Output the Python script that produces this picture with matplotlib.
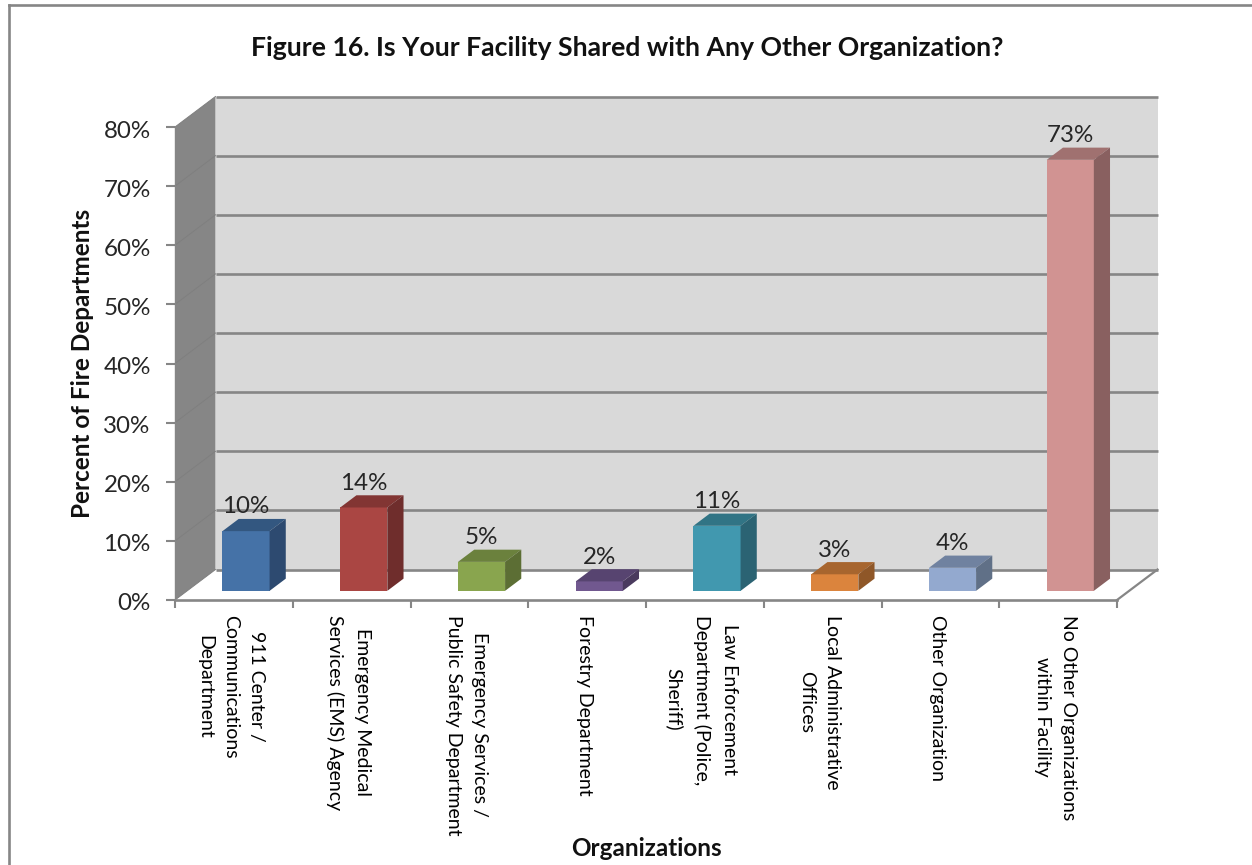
import matplotlib
matplotlib.use('Agg')
from matplotlib import pyplot as plt
from matplotlib.lines import Line2D
from matplotlib.patches import Polygon
from matplotlib.transforms import ScaledTranslation

plt.rcParams['font.family'] = ['Lato', 'DejaVu Sans']

# data
organizace = [
    '911 Center /\nCommunications\nDepartment',
    'Emergency Medical\nServices (EMS) Agency',
    'Emergency Services /\nPublic Safety Department',
    'Forestry Department',
    'Law Enforcement\nDepartment (Police,\nSheriff)',
    'Local Administrative\nOffices',
    'Other Organization',
    'No Other Organizations\nwithin Facility',
]
hodnoty = [10.1, 14.1, 4.9, 1.6, 11.0, 2.8, 3.9, 72.9]
popisky = ['10%', '14%', '5%', '2%', '11%', '3%', '4%', '73%']
y_ticky = [0, 10, 20, 30, 40, 50, 60, 70, 80]

barvy_predek = ['#4572a7', '#aa4643', '#89a54e', '#71588f', '#4198af', '#db843d', '#93a9cf', '#d19392']
barvy_bok = ['#2d4a70', '#6f2d2c', '#5c6e34', '#4a3a5e', '#2b6373', '#8f5728', '#607087', '#896060']
barvy_vrch = ['#335780', '#823533', '#6b813d', '#574470', '#317485', '#a7652e', '#7082a0', '#a07170']

W, H = 1252, 865
SEDA = '#868686'
TEXT = '#262626'

fig = plt.figure(figsize=(W / 100, H / 100), dpi=100, facecolor='white')
ax = fig.add_axes([175 / W, (H - 600) / H, (1117 - 175) / W, (600 - 127) / H])
ax.set_xlim(0, 8)
ax.set_ylim(0, 80)
ax.patch.set_visible(False)
for s in ax.spines.values():
    s.set_visible(False)

# posun do hloubky v jednotkach dat
DX = 40.5 / (942 / 8)
DY = 30.5 / (473 / 80)


def hloubka(x, y, d):
    return (x + d * DX, y + d * DY)


# bocni a zadni stena
ax.add_patch(Polygon([hloubka(0, 0, 0), hloubka(0, 80, 0), hloubka(0, 80, 1), hloubka(0, 0, 1)],
                     closed=True, fc=SEDA, ec='none', clip_on=False, zorder=1))
ax.add_patch(Polygon([hloubka(0, 0, 1), hloubka(0, 80, 1), hloubka(8, 80, 1), hloubka(8, 0, 1)],
                     closed=True, fc='#d9d9d9', ec='none', clip_on=False, zorder=1))

# mrizka
for v in y_ticky:
    a = hloubka(0, v, 1)
    b = hloubka(8, v, 1)
    ax.plot([a[0], b[0]], [a[1], b[1]], color=SEDA, lw=1.9, clip_on=False, zorder=2, solid_capstyle='butt')
    c = hloubka(0, v, 0)
    ax.plot([c[0], a[0]], [c[1], a[1]], color='#7f7f7f', lw=0.7, clip_on=False, zorder=2)

# podlaha
pravy = hloubka(8, 0, 1)
ax.plot([8, pravy[0]], [0, pravy[1]], color=SEDA, lw=1.6, clip_on=False, zorder=2)
ax.plot([0, 8], [0, 0], color=SEDA, lw=1.9, clip_on=False, zorder=2, solid_capstyle='projecting')
ax.plot([0, 0], [0, 80], color=SEDA, lw=1.0, clip_on=False, zorder=2)

# sloupce
SIRKA = 0.4
D1, D2 = 0.3, 0.7
pozice = [i + 0.5 + D1 * DX for i in range(len(hodnoty))]
ax.bar(pozice, hodnoty, width=SIRKA, bottom=D1 * DY, color=barvy_predek, clip_on=False, zorder=4)
for i, v in enumerate(hodnoty):
    x1 = pozice[i] - SIRKA / 2
    x2 = pozice[i] + SIRKA / 2
    ax.add_patch(Polygon([hloubka(x1, v + D1 * DY, 0), hloubka(x2, v + D1 * DY, 0),
                          hloubka(x2, v + D1 * DY, D2 - D1), hloubka(x1, v + D1 * DY, D2 - D1)],
                         closed=True, fc=barvy_vrch[i], ec='none', clip_on=False, zorder=4))
    ax.add_patch(Polygon([hloubka(x2, D1 * DY, 0), hloubka(x2, v + D1 * DY, 0),
                          hloubka(x2, v + D1 * DY, D2 - D1), hloubka(x2, D1 * DY, D2 - D1)],
                         closed=True, fc=barvy_bok[i], ec='none', clip_on=False, zorder=4))
    ax.annotate(popisky[i], (pozice[i], v + D2 * DY), xytext=(0, 4), textcoords='offset points',
                ha='center', va='baseline', fontsize=17.4, color=TEXT, zorder=6, annotation_clip=False)

# osy
ax.set_yticks(y_ticky)
ax.set_yticklabels([f'{v}%' for v in y_ticky])
ax.tick_params(axis='y', length=6.5, width=1.5, color=SEDA, labelsize=17.4, labelcolor=TEXT, pad=11)
ax.set_xticks(range(9))
ax.set_xticklabels([])
ax.tick_params(axis='x', which='major', length=5.5, width=1.5, color=SEDA)
ax.set_xticks([i + 0.5 for i in range(8)], minor=True)
ax.set_xticklabels(organizace, minor=True, rotation=270, ha='center', va='top', ma='center',
                   fontsize=14, color='black', linespacing=1.65)
ax.tick_params(axis='x', which='minor', length=0, pad=10.5)

# jemne doladeni popisku os o par pixelu
for t in ax.get_xticklabels(minor=True):
    t.set_transform(t.get_transform() + ScaledTranslation(-3 / 100, 0, fig.dpi_scale_trans))
for t in ax.get_yticklabels():
    t.set_transform(t.get_transform() + ScaledTranslation(0, -2 / 100, fig.dpi_scale_trans))

fig.text(627 / W, 1 - 48 / H, 'Figure 16. Is Your Facility Shared with Any Other Organization?',
         ha='center', va='center', fontsize=19.2, fontweight='bold', color='#111111')
fig.text(83 / W, 1 - 363 / H, 'Percent of Fire Departments', rotation=90,
         ha='center', va='center', fontsize=17.5, fontweight='bold', color='#111111')
fig.text(646 / W, 1 - 849 / H, 'Organizations',
         ha='center', va='center', fontsize=17.5, fontweight='bold', color='#111111')

# ramecek grafu (vpravo a dole je obrazek oriznuty)
fig.add_artist(Line2D([8.5 / W, 8.5 / W], [0, 1 - 5 / H], color=SEDA, lw=1.9, solid_capstyle='projecting'))
fig.add_artist(Line2D([8.5 / W, 1], [1 - 5 / H, 1 - 5 / H], color=SEDA, lw=1.9))

fig.savefig('out.png', dpi=100)
